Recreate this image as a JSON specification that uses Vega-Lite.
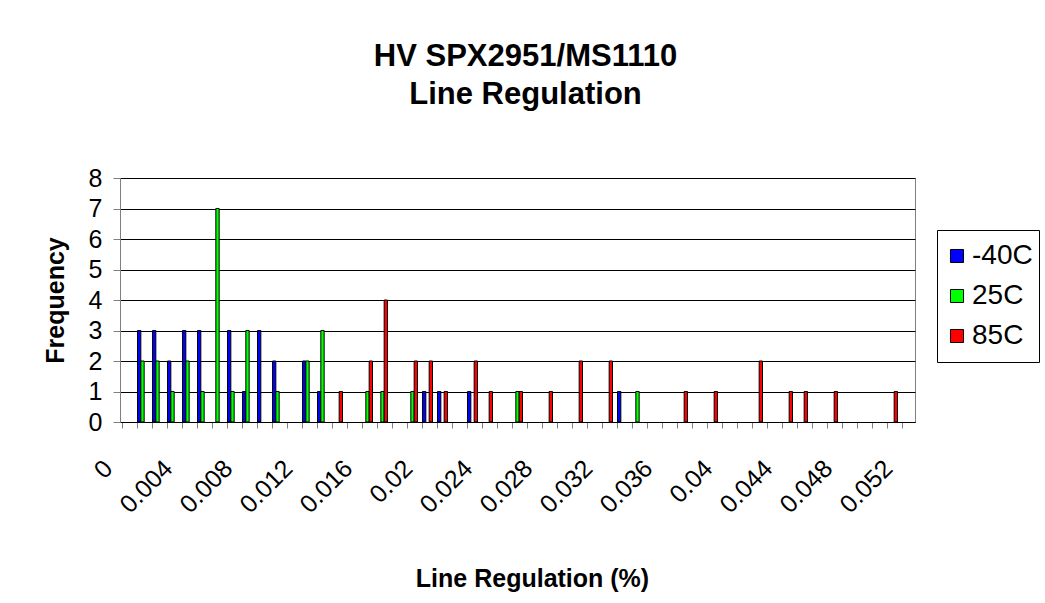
{
  "$schema": "https://vega.github.io/schema/vega-lite/v6.json",
  "width": 795,
  "height": 244,
  "autosize": {"type": "none"},
  "padding": {"left": 120, "top": 178, "right": 130, "bottom": 181},
  "background": "white",
  "title": {
    "text": ["HV SPX2951/MS1110", "Line Regulation"],
    "font": "Liberation Sans",
    "fontSize": 31,
    "fontWeight": "bold",
    "color": "black",
    "lineHeight": 38,
    "offset": 55,
    "dx": 8,
    "anchor": "middle"
  },
  "config": {
    "font": "Liberation Sans",
    "view": {"stroke": "#808080", "strokeWidth": 1}
  },
  "data": {
    "values": [
      {"bin": "0.001", "series": "-40C", "count": 3},
      {"bin": "0.002", "series": "-40C", "count": 3},
      {"bin": "0.003", "series": "-40C", "count": 2},
      {"bin": "0.004", "series": "-40C", "count": 3},
      {"bin": "0.005", "series": "-40C", "count": 3},
      {"bin": "0.007", "series": "-40C", "count": 3},
      {"bin": "0.008", "series": "-40C", "count": 1},
      {"bin": "0.009", "series": "-40C", "count": 3},
      {"bin": "0.01", "series": "-40C", "count": 2},
      {"bin": "0.012", "series": "-40C", "count": 2},
      {"bin": "0.013", "series": "-40C", "count": 1},
      {"bin": "0.02", "series": "-40C", "count": 1},
      {"bin": "0.021", "series": "-40C", "count": 1},
      {"bin": "0.023", "series": "-40C", "count": 1},
      {"bin": "0.033", "series": "-40C", "count": 1},
      {"bin": "0.001", "series": "25C", "count": 2},
      {"bin": "0.002", "series": "25C", "count": 2},
      {"bin": "0.003", "series": "25C", "count": 1},
      {"bin": "0.004", "series": "25C", "count": 2},
      {"bin": "0.005", "series": "25C", "count": 1},
      {"bin": "0.006", "series": "25C", "count": 7},
      {"bin": "0.007", "series": "25C", "count": 1},
      {"bin": "0.008", "series": "25C", "count": 3},
      {"bin": "0.01", "series": "25C", "count": 1},
      {"bin": "0.012", "series": "25C", "count": 2},
      {"bin": "0.013", "series": "25C", "count": 3},
      {"bin": "0.016", "series": "25C", "count": 1},
      {"bin": "0.017", "series": "25C", "count": 1},
      {"bin": "0.019", "series": "25C", "count": 1},
      {"bin": "0.026", "series": "25C", "count": 1},
      {"bin": "0.034", "series": "25C", "count": 1},
      {"bin": "0.014", "series": "85C", "count": 1},
      {"bin": "0.016", "series": "85C", "count": 2},
      {"bin": "0.017", "series": "85C", "count": 4},
      {"bin": "0.019", "series": "85C", "count": 2},
      {"bin": "0.02", "series": "85C", "count": 2},
      {"bin": "0.021", "series": "85C", "count": 1},
      {"bin": "0.023", "series": "85C", "count": 2},
      {"bin": "0.024", "series": "85C", "count": 1},
      {"bin": "0.026", "series": "85C", "count": 1},
      {"bin": "0.028", "series": "85C", "count": 1},
      {"bin": "0.03", "series": "85C", "count": 2},
      {"bin": "0.032", "series": "85C", "count": 2},
      {"bin": "0.037", "series": "85C", "count": 1},
      {"bin": "0.039", "series": "85C", "count": 1},
      {"bin": "0.042", "series": "85C", "count": 2},
      {"bin": "0.044", "series": "85C", "count": 1},
      {"bin": "0.045", "series": "85C", "count": 1},
      {"bin": "0.047", "series": "85C", "count": 1},
      {"bin": "0.051", "series": "85C", "count": 1}
    ]
  },
  "mark": {"type": "bar", "stroke": "black", "strokeWidth": 1},
  "encoding": {
    "x": {
      "field": "bin",
      "type": "nominal",
      "scale": {
        "domain": ["0","0.001","0.002","0.003","0.004","0.005","0.006","0.007","0.008","0.009","0.01","0.011","0.012","0.013","0.014","0.015","0.016","0.017","0.018","0.019","0.02","0.021","0.022","0.023","0.024","0.025","0.026","0.027","0.028","0.029","0.03","0.031","0.032","0.033","0.034","0.035","0.036","0.037","0.038","0.039","0.04","0.041","0.042","0.043","0.044","0.045","0.046","0.047","0.048","0.049","0.05","0.051","0.052"],
        "paddingInner": 0.3333,
        "paddingOuter": 0.1667
      },
      "axis": {
        "title": "Line Regulation (%)",
        "titleFontSize": 25,
        "titleFontWeight": "bold",
        "titleColor": "black",
        "titlePadding": 49,
        "titleX": 412,
        "labelAngle": -45,
        "labelAlign": "right",
        "labelBaseline": "middle",
        "labelFontSize": 25,
        "labelColor": "black",
        "labelOverlap": false,
        "labelBound": false,
        "labelPadding": 36,
        "labelOffset": -19,
        "labelExpr": "indexof(['0','0.004','0.008','0.012','0.016','0.02','0.024','0.028','0.032','0.036','0.04','0.044','0.048','0.052'], datum.value) >= 0 ? datum.value : ''",
        "bandPosition": 0,
        "tickColor": "#808080",
        "tickSize": 6,
        "domainColor": "black",
        "grid": false
      }
    },
    "xOffset": {
      "field": "series",
      "type": "nominal",
      "scale": {"domain": ["-40C", "25C", "85C"], "paddingInner": 0, "paddingOuter": 0}
    },
    "y": {
      "field": "count",
      "type": "quantitative",
      "scale": {"domain": [0, 8], "nice": false},
      "axis": {
        "title": "Frequency",
        "titleFontSize": 25,
        "titleFontWeight": "bold",
        "titleColor": "black",
        "titlePadding": 20,
        "values": [0,1,2,3,4,5,6,7,8],
        "format": "d",
        "labelFontSize": 25,
        "labelColor": "black",
        "labelPadding": 11,
        "tickColor": "#808080",
        "tickSize": 7,
        "domainColor": "#808080",
        "grid": true,
        "gridColor": "black",
        "gridWidth": 1
      }
    },
    "color": {
      "field": "series",
      "type": "nominal",
      "scale": {"domain": ["-40C", "25C", "85C"], "range": ["#0000FF", "#00FF00", "#FF0000"]},
      "legend": {
        "title": null,
        "orient": "none",
        "legendX": 817,
        "legendY": 52,
        "padding": 6,
        "strokeColor": "black",
        "fillColor": "white",
        "symbolType": "square",
        "symbolSize": 170,
        "symbolStrokeColor": "black",
        "symbolStrokeWidth": 1,
        "symbolOpacity": 1,
        "labelFontSize": 28,
        "labelColor": "black",
        "labelOffset": 1,
        "clipHeight": 40,
        "rowPadding": 0,
        "labelLimit": 200
      }
    }
  }
}
